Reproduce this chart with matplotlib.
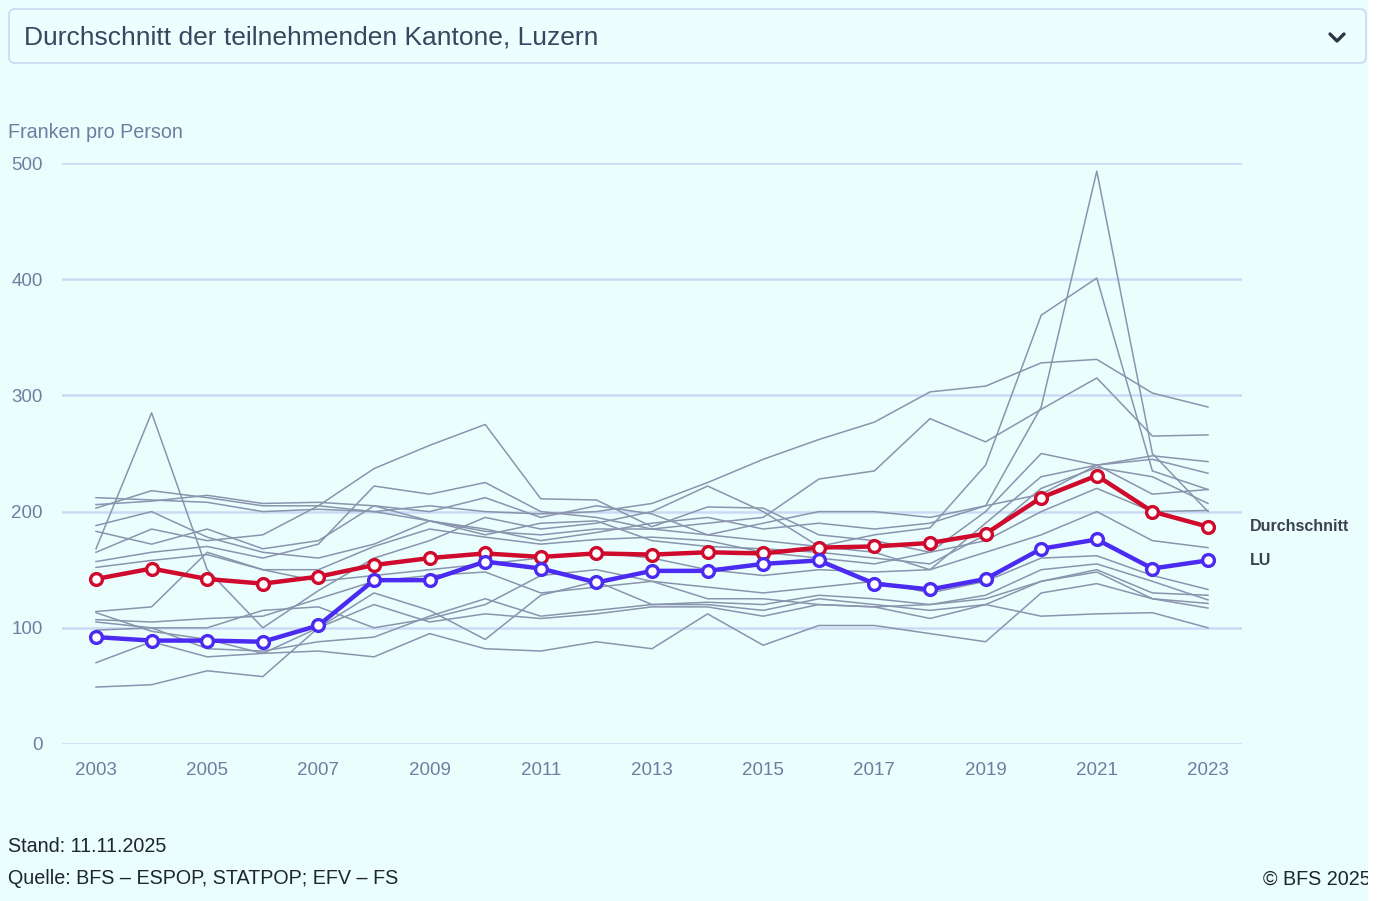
import numpy as np
import matplotlib
matplotlib.use("Agg")
import matplotlib.pyplot as plt
from matplotlib.patches import FancyBboxPatch, Rectangle
from matplotlib.lines import Line2D
from matplotlib.transforms import IdentityTransform

plt.rcParams['font.family'] = ['Liberation Sans', 'DejaVu Sans']

years = list(range(2003, 2024))

durchschnitt = [142, 151, 142, 138, 144, 154, 160, 164, 161, 164, 163, 165, 164, 169, 170, 173,
                181, 212, 231, 200, 187]
luzern = [92, 89, 89, 88, 102, 141, 141, 157, 151, 139, 149, 149, 155, 158, 138, 133,
          142, 168, 176, 151, 158]

# other participating cantons (grey lines)
kanton_01 = [212, 210, 208, 200, 202, 200, 205, 200, 198, 200, 207, 225, 245, 262, 277, 303, 308, 328, 331, 302, 290]
kanton_02 = [203, 218, 212, 205, 205, 200, 192, 183, 180, 185, 185, 190, 195, 228, 235, 280, 260, 288, 315, 265, 266]
kanton_03 = [188, 200, 178, 165, 160, 172, 192, 185, 175, 182, 190, 195, 185, 190, 185, 190, 205, 290, 493, 250, 200]
kanton_04 = [206, 209, 214, 207, 208, 205, 200, 212, 195, 205, 198, 180, 175, 170, 180, 186, 240, 369, 401, 235, 219]
kanton_05 = [165, 185, 175, 180, 205, 237, 257, 275, 211, 210, 187, 204, 203, 180, 175, 165, 200, 250, 240, 248, 243]
kanton_06 = [168, 285, 150, 100, 132, 160, 175, 195, 185, 190, 200, 222, 200, 170, 165, 150, 190, 230, 240, 245, 233]
kanton_07 = [183, 172, 185, 168, 175, 205, 192, 180, 190, 192, 175, 170, 168, 165, 160, 155, 180, 220, 238, 230, 207]
kanton_08 = [157, 165, 170, 160, 172, 222, 215, 225, 200, 195, 185, 180, 190, 200, 200, 195, 205, 215, 240, 215, 219]
kanton_09 = [152, 158, 163, 150, 150, 170, 185, 178, 172, 176, 178, 175, 165, 160, 155, 165, 175, 200, 220, 200, 201]
kanton_10 = [114, 118, 165, 150, 140, 145, 150, 155, 160, 165, 160, 150, 145, 150, 148, 150, 165, 180, 200, 175, 169]
kanton_11 = [107, 105, 108, 110, 125, 140, 145, 148, 130, 135, 140, 135, 130, 135, 140, 130, 140, 160, 162, 145, 133]
kanton_12 = [105, 100, 100, 115, 118, 100, 108, 120, 145, 150, 140, 125, 125, 120, 118, 120, 125, 140, 150, 130, 128]
kanton_13 = [98, 100, 82, 80, 88, 92, 110, 125, 110, 115, 120, 122, 120, 128, 125, 120, 128, 150, 155, 140, 124]
kanton_14 = [113, 97, 90, 78, 100, 130, 115, 90, 128, 140, 120, 120, 115, 125, 120, 115, 120, 140, 148, 125, 121]
kanton_15 = [70, 88, 75, 78, 80, 75, 95, 82, 80, 88, 82, 112, 85, 102, 102, 95, 88, 130, 138, 125, 117]
kanton_16 = [49, 51, 63, 58, 100, 120, 105, 112, 108, 112, 118, 118, 110, 120, 118, 108, 120, 110, 112, 113, 100]

kantone = [kanton_01, kanton_02, kanton_03, kanton_04, kanton_05, kanton_06, kanton_07, kanton_08,
           kanton_09, kanton_10, kanton_11, kanton_12, kanton_13, kanton_14, kanton_15, kanton_16]

y_ticks = [0, 100, 200, 300, 400, 500]
x_ticks = list(range(2003, 2024, 2))

bg = '#eafefe'
grid_col = '#cbdaf5'
text_col = '#6e7ea0'
red = '#cf0a2c'
blue = '#4b2bf2'
grey = '#8a94ad'

W, H = 1379, 901
fig = plt.figure(figsize=(W / 100, H / 100), dpi=100, facecolor=bg)

# dropdown box at the top
box = FancyBboxPatch((9, H - 63), 1357, 54, boxstyle="round,pad=0,rounding_size=6",
                     transform=IdentityTransform(), facecolor='#edfefe', edgecolor='#c9d8f2', lw=1.2)
fig.patches.append(box)
fig.text(24 / W, 1 - 38 / H, 'Durchschnitt der teilnehmenden Kantone, Luzern',
         fontsize=19, color='#3b4560', va='center', ha='left')
chev = Line2D([1330, 1337, 1344], [H - 34, H - 41, H - 34], transform=IdentityTransform(),
              color='#2f3545', lw=2.4, solid_capstyle='round', solid_joinstyle='round')
fig.lines.append(chev)

ax = fig.add_axes([62 / W, (H - 744) / H, 1180 / W, 581 / H])
ax.set_facecolor('none')

for k in kantone:
    ax.plot(years, k, color=grey, lw=1.1, zorder=2, clip_on=False)

ax.plot(years, durchschnitt, color=red, lw=3.2, zorder=4, marker='o', markersize=8.5,
        markerfacecolor='white', markeredgecolor=red, markeredgewidth=2.4, clip_on=False)
ax.plot(years, luzern, color=blue, lw=3.2, zorder=4, marker='o', markersize=8.5,
        markerfacecolor='white', markeredgecolor=blue, markeredgewidth=2.4, clip_on=False)

ax.set_xlim(2003 - 34 / 55.6, 2023 + 34 / 55.6)
ax.set_ylim(0, 500)
ax.set_yticks(y_ticks)
ax.set_xticks(x_ticks)
for y in y_ticks:
    ax.axhline(y, color=grid_col, lw=1.8, zorder=1)
for s in ax.spines.values():
    s.set_visible(False)
ax.tick_params(axis='both', length=0, labelsize=13.5, labelcolor=text_col)
ax.tick_params(axis='x', pad=13)
ax.tick_params(axis='y', pad=14)

ax.text(2023.75, durchschnitt[-1], 'Durchschnitt', fontsize=11.5, fontweight='bold',
        color='#3c4150', va='center', ha='left')
ax.text(2023.75, luzern[-1], 'LU', fontsize=11.5, fontweight='bold',
        color='#3c4150', va='center', ha='left')

fig.text(8 / W, 1 - 132 / H, 'Franken pro Person', fontsize=14.2, color=text_col,
         va='center', ha='left')

fig.text(8 / W, 1 - 846 / H, 'Stand: 11.11.2025', fontsize=14.2, color='#1f2430',
         va='center', ha='left')
fig.text(8 / W, 1 - 879 / H, 'Quelle: BFS – ESPOP, STATPOP; EFV – FS', fontsize=14.2,
         color='#1f2430', va='center', ha='left')
fig.text(1263 / W, 1 - 879 / H, '© BFS 2025', fontsize=14.2, color='#1f2430',
         va='center', ha='left')

# white strip at the right edge
strip = Rectangle((1368, 0), 11, H, transform=IdentityTransform(), facecolor='white',
                  edgecolor='none', zorder=20)
fig.patches.append(strip)

fig.savefig('out.png', dpi=100, facecolor=bg)
